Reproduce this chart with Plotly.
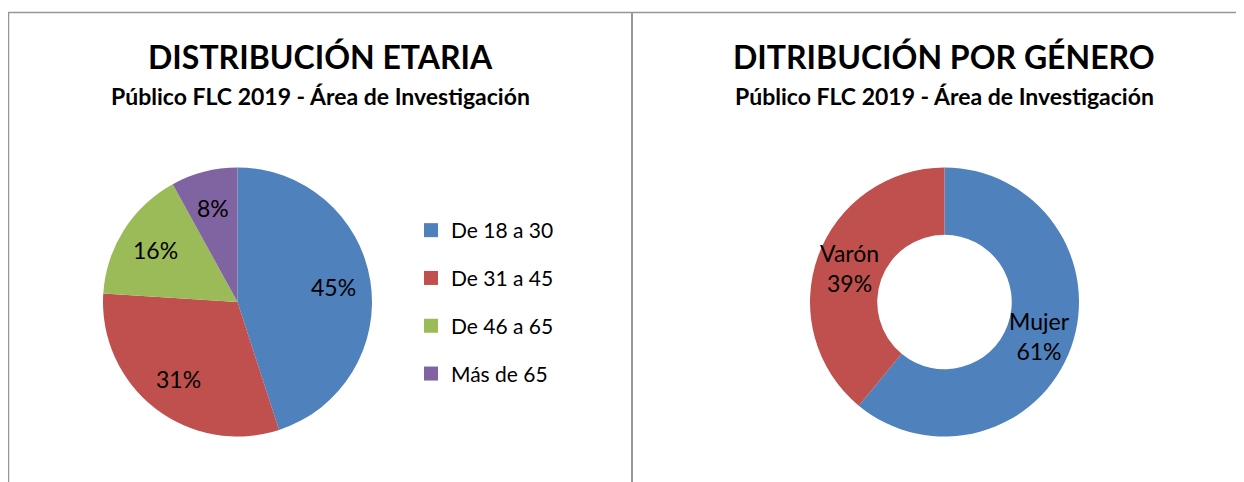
import math
import plotly.graph_objects as go

# ---- data ----
age_labels = ["De 18 a 30", "De 31 a 45", "De 46 a 65", "Más de 65"]
age_values = [45, 31, 16, 8]
age_colors = ["#4F81BD", "#C0504D", "#9BBB59", "#8064A2"]

gender_labels = ["Mujer", "Varón"]
gender_values = [61, 39]
gender_colors = ["#4F81BD", "#C0504D"]

title_left = "DISTRIBUCIÓN ETARIA"
title_right = "DITRIBUCIÓN POR GÉNERO"
subtitle = "Público FLC 2019 - Área de Investigación"

# page body has an 8px margin: build the figure in page coordinates
OFF = 8
W, H = 1244 - OFF, 482 - OFF
FONT = "Lato, 'Open Sans', sans-serif"


def px_x(v):  # page x -> paper
    return (v - OFF) / W


def px_y(v):  # page y (from top) -> paper
    return 1 - (v - OFF) / H


# pie geometry (page px)
R = 134.5
PIE_C = (237.5, 302.0)
DON_C = (944.5, 302.0)
HOLE = 0.5


def dom(c):
    return dict(x=[px_x(c[0] - R), px_x(c[0] + R)],
                y=[px_y(c[1] + R), px_y(c[1] - R)])


fig = go.Figure()

fig.add_trace(go.Pie(
    labels=age_labels, values=age_values,
    marker=dict(colors=age_colors, line=dict(color="white", width=0)),
    sort=False, direction="clockwise", rotation=0,
    textinfo="none", domain=dom(PIE_C),
    showlegend=False, hoverinfo="label+percent",
))

fig.add_trace(go.Pie(
    labels=gender_labels, values=gender_values, hole=HOLE,
    marker=dict(colors=gender_colors, line=dict(color="white", width=0)),
    sort=False, direction="clockwise", rotation=0,
    textinfo="none", domain=dom(DON_C),
    showlegend=False, hoverinfo="label+percent",
))


def slice_labels(values, labels, center, rfrac, with_label):
    total = float(sum(values))
    cum = 0.0
    for v, lab in zip(values, labels):
        th = 2 * math.pi * (cum + v / 2.0) / total
        cum += v
        x = center[0] + rfrac * R * math.sin(th)
        y = center[1] - rfrac * R * math.cos(th)
        pct = "%d%%" % round(100 * v / total)
        txt = (lab + "<br>" + pct) if with_label else pct
        fig.add_annotation(x=px_x(x), y=px_y(y), xref="paper", yref="paper",
                           text=txt, showarrow=False,
                           xanchor="center", yanchor="middle",
                           font=dict(family=FONT, size=23, color="#000000"))


slice_labels(age_values, age_labels, PIE_C, 0.72, False)
slice_labels(gender_values, gender_labels, DON_C, (1 + HOLE) / 2, True)

# legend entries (one per age group)
for lab, col in zip(age_labels, age_colors):
    fig.add_trace(go.Scatter(
        x=[None], y=[None], mode="markers", name=lab, legendgroup=lab,
        marker=dict(symbol="square", size=14, color=col, line=dict(width=0)),
        showlegend=True, hoverinfo="skip",
    ))

fig.update_layout(
    width=W, height=H,
    margin=dict(l=0, r=0, t=0, b=0),
    paper_bgcolor="white", plot_bgcolor="white",
    xaxis=dict(visible=False), yaxis=dict(visible=False),
    font=dict(family=FONT, color="#000000"),
    legend=dict(
        x=px_x(411), y=px_y(210), xanchor="left", yanchor="top",
        font=dict(family=FONT, size=21, color="#000000"),
        traceorder="grouped", tracegroupgap=17.5,
        bgcolor="rgba(0,0,0,0)",
    ),
    showlegend=True,
)

# panel borders
line_col = "#969696"
fig.add_shape(type="line", xref="paper", yref="paper",
              x0=px_x(8), x1=1, y0=px_y(12.5), y1=px_y(12.5),
              line=dict(color=line_col, width=1.5))
fig.add_shape(type="line", xref="paper", yref="paper",
              x0=px_x(8.5), x1=px_x(8.5), y0=px_y(12.5), y1=0,
              line=dict(color=line_col, width=1.5))
fig.add_shape(type="line", xref="paper", yref="paper",
              x0=px_x(632), x1=px_x(632), y0=px_y(12.5), y1=0,
              line=dict(color=line_col, width=2))

# titles
for cx, t in [(320, title_left), (944, title_right)]:
    fig.add_annotation(x=px_x(cx), y=px_y(56.5), xref="paper", yref="paper",
                       text="<b>%s</b>" % t, showarrow=False,
                       xanchor="center", yanchor="middle",
                       font=dict(family=FONT, size=32, color="#000000"))
    fig.add_annotation(x=px_x(cx), y=px_y(96), xref="paper", yref="paper",
                       text="<b>%s</b>" % subtitle, showarrow=False,
                       xanchor="center", yanchor="middle",
                       font=dict(family=FONT, size=23, color="#000000"))

fig.write_html("out.html")
